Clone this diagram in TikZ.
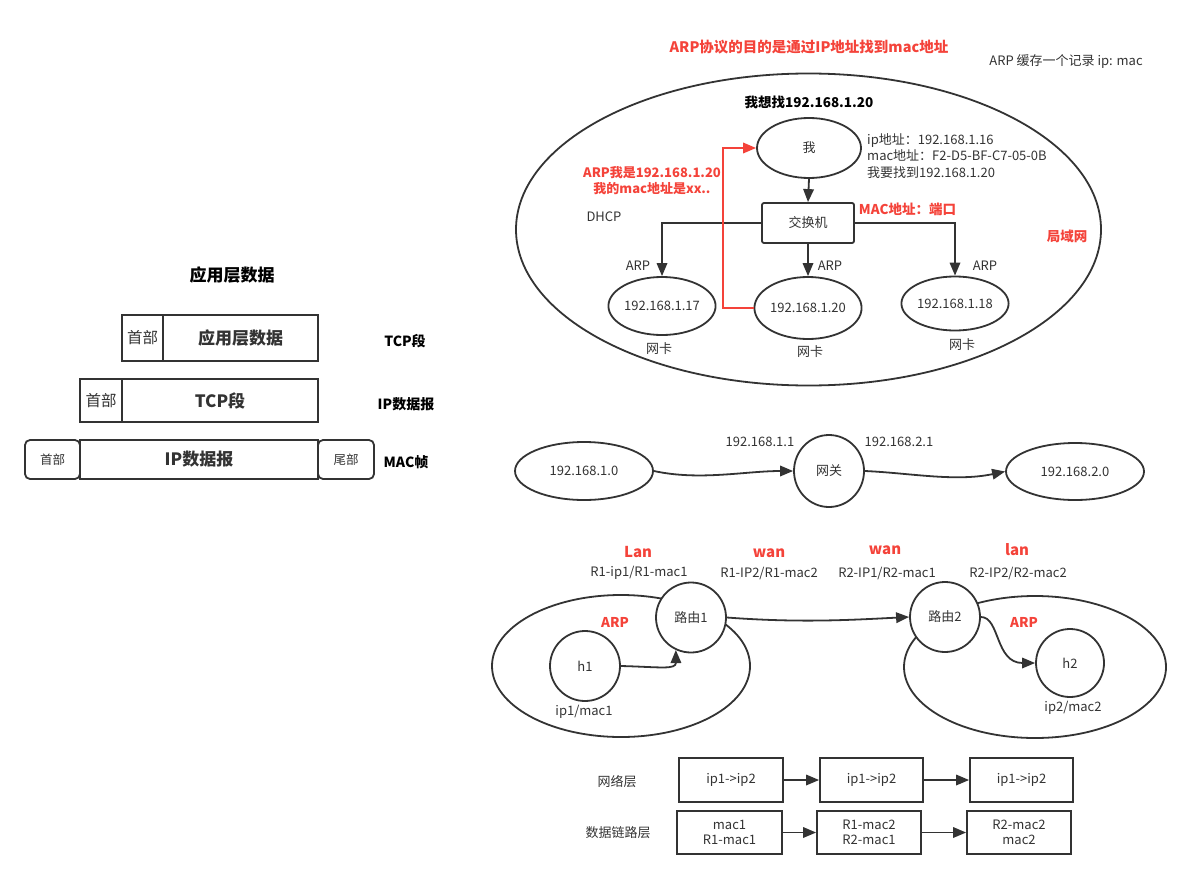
\documentclass[tikz,border=0pt]{standalone}
\usepackage{fontspec}
\setmainfont{Noto Sans CJK SC}
\usetikzlibrary{arrows.meta,shapes.geometric}
\definecolor{ln}{HTML}{333333}
\definecolor{rd}{HTML}{F4433A}
\newcommand\fsn{\fontsize{13}{16.5}\selectfont}
\newcommand\fsb{\fontsize{13.5}{15.5}\selectfont\bfseries}
\tikzset{
  every node/.style={font=\fsn, text=ln},
  lbl/.style={inner sep=0pt},
  rlbl/.style={inner sep=0pt, text=rd, font=\fsb},
  blbl/.style={inner sep=0pt, text=black, font=\fontsize{14}{16}\selectfont\bfseries},
  ell/.style={draw=ln, line width=1.8pt, ellipse, inner sep=0pt, fill=white},
  bigell/.style={draw=ln, line width=1.8pt, ellipse, inner sep=0pt},
  box/.style={draw=ln, line width=1.8pt, rectangle, inner sep=0pt, fill=white},
  conn/.style={draw=ln, line width=1.8pt, -{Triangle[length=13pt,width=10.5pt]}},
  rconn/.style={draw=rd, line width=1.8pt, -{Triangle[length=13pt,width=10.5pt]}},
}
\begin{document}
\begin{tikzpicture}[x=1pt,y=-1pt]
\useasboundingbox (0,0) rectangle (1193,880);

% ---------------- ARP / LAN ----------------
\node[rlbl, font=\fontsize{14.5}{16}\selectfont\bfseries] (title) at (809,47) {ARP协议的目的是通过IP地址找到mac地址};
\node[lbl] (cache) at (1066,62) {ARP 缓存一个记录 ip: mac};
\node[bigell, minimum width=585pt, minimum height=312pt] (lan) at (808.5,229.5) {};
\node[lbl, text=black, font=\fsb] (want) at (809,102) {我想找192.168.1.20};
\node[ell, minimum width=104pt, minimum height=60pt] (me) at (809,148) {我};
\node[lbl, align=left, anchor=west] (info) at (867,156) {ip地址：192.168.1.16\\mac地址：F2-D5-BF-C7-05-0B\\我要找到192.168.1.20};
\node[rlbl, align=center, font=\fontsize{13}{15.5}\selectfont\bfseries] (reply) at (652,180.5) {ARP我是192.168.1.20\\我的mac地址是xx..};
\node[lbl] (dhcp) at (604,217) {DHCP};
\node[box, minimum width=92pt, minimum height=40pt, rounded corners=2pt] (sw) at (808,223) {交换机};
\node[rlbl] (macport) at (907.5,209) {MAC地址：端口};
\node[rlbl] (lanlbl) at (1067,236) {局域网};
\node[ell, minimum width=100pt, minimum height=58pt] (n17) at (662,306) {192.168.1.17};
\node[ell, minimum width=101pt, minimum height=62pt] (n20) at (808,308) {192.168.1.20};
\node[ell, minimum width=102pt, minimum height=54pt] (n18) at (955,303.5) {192.168.1.18};
\node[lbl] (arp1) at (638,266) {ARP};
\node[lbl] (arp2) at (830,266) {ARP};
\node[lbl] (arp3) at (985,266) {ARP};
\node[lbl] (nic1) at (659,349) {网卡};
\node[lbl] (nic2) at (810,352) {网卡};
\node[lbl] (nic3) at (962,345) {网卡};
\coordinate (rc) at (723,220);
\draw[conn] (me.south) -- (sw.north);
\draw[conn] (sw.west) -| (n17.north);
\draw[conn] (sw.south) -- (n20.north);
\draw[conn] (sw.east) -| (n18.north);
\draw[rconn] (n20.west) -- (n20.west -| rc) -- (rc |- me.west) -- (me.west);

% ---------------- encapsulation ----------------
\node[lbl, text=black, font=\fontsize{17}{19}\selectfont\bfseries] (apptitle) at (232,275) {应用层数据};
\node[box, minimum width=41pt, minimum height=46pt, font=\fontsize{15.5}{17}\selectfont] (hd1) at (142.5,338) {首部};
\node[box, minimum width=155pt, minimum height=46pt, font=\fontsize{17}{19}\selectfont\bfseries] (dt1) at (240.5,338) {应用层数据};
\node[box, minimum width=42pt, minimum height=43pt, font=\fontsize{15.5}{17}\selectfont] (hd2) at (101,400.5) {首部};
\node[box, minimum width=196pt, minimum height=43pt, font=\fontsize{17}{19}\selectfont\bfseries] (dt2) at (220,400.5) {TCP段};
\node[box, minimum width=238pt, minimum height=39pt, font=\fontsize{17}{19}\selectfont\bfseries] (dt3) at (199,459.5) {IP数据报};
\node[box, minimum width=55pt, minimum height=39pt, rounded corners=5pt, font=\fontsize{12.5}{14}\selectfont] (hd3) at (52.5,459.5) {首部};
\node[box, minimum width=56pt, minimum height=39pt, rounded corners=5pt, font=\fontsize{12.5}{14}\selectfont] (tl3) at (346,459.5) {尾部};
\node[blbl] (seg) at (405,341) {TCP段};
\node[blbl] (dgram) at (406,404) {IP数据报};
\node[blbl] (frame) at (406,462) {MAC帧};

% ---------------- gateway ----------------
\node[ell, minimum width=138pt, minimum height=58pt] (net1) at (584,471) {192.168.1.0};
\node[ell, minimum width=70pt, minimum height=72pt] (gw) at (829,471) {网关};
\node[ell, minimum width=138pt, minimum height=57pt] (net2) at (1075,471.5) {192.168.2.0};
\node[lbl] (gwip1) at (760,442) {192.168.1.1};
\node[lbl] (gwip2) at (899,442) {192.168.2.1};
\draw[conn] (net1.east) .. controls (700,481) and (745,471) .. (gw.west);
\draw[conn] (gw.east) .. controls (910,473) and (955,482) .. (net2.west);

% ---------------- routers ----------------
\node[bigell, minimum width=258pt, minimum height=142pt] (lanA) at (621,666) {};
\node[bigell, minimum width=262pt, minimum height=142pt] (lanB) at (1035,667) {};
\node[ell, minimum size=70pt] (r1) at (691,617.5) {路由1};
\node[ell, minimum size=70pt] (r2) at (945,617) {路由2};
\node[ell, minimum size=70pt] (h1) at (585,666) {h1};
\node[ell, minimum size=68pt] (h2) at (1070,663) {h2};
\node[lbl] (ip1) at (584,712) {ip1/mac1};
\node[lbl] (ip2) at (1073,708) {ip2/mac2};
\node[rlbl] (arpA) at (615,622) {ARP};
\node[rlbl] (arpB) at (1024,622) {ARP};
\node[rlbl, font=\fontsize{15}{17}\selectfont\bfseries] (lanL) at (638,552) {Lan};
\node[rlbl, font=\fontsize{15}{17}\selectfont\bfseries] (wanL) at (769,553) {wan};
\node[rlbl, font=\fontsize{15}{17}\selectfont\bfseries] (wanR) at (885,550) {wan};
\node[rlbl, font=\fontsize{15}{17}\selectfont\bfseries] (lanR) at (1017,550) {lan};
\node[lbl] (if1) at (639,573) {R1-ip1/R1-mac1};
\node[lbl] (if2) at (769,573) {R1-IP2/R1-mac2};
\node[lbl] (if3) at (887,573) {R2-IP1/R2-mac1};
\node[lbl] (if4) at (1018,573) {R2-IP2/R2-mac2};
\draw[conn] (h1.east) .. controls (660,667) and (676,670) .. (r1.245);
\draw[conn] (r1.east) .. controls (800,623) and (850,620) .. (r2.west);
\draw[conn] (r2.east) .. controls (1000,617) and (995,663) .. (h2.west);

% ---------------- layers ----------------
\node[lbl] (netlayer) at (617,782) {网络层};
\node[lbl] (linklayer) at (618,833) {数据链路层};
\node[box, minimum width=104pt, minimum height=44pt] (a1) at (731,780) {ip1->ip2};
\node[box, minimum width=103pt, minimum height=44pt] (a2) at (871.5,780) {ip1->ip2};
\node[box, minimum width=103pt, minimum height=44pt] (a3) at (1021.5,780) {ip1->ip2};
\node[box, minimum width=105pt, minimum height=43pt, align=center, font=\fontsize{13}{15}\selectfont] (b1) at (729.5,832.5) {mac1\\R1-mac1};
\node[box, minimum width=104pt, minimum height=43pt, align=center, font=\fontsize{13}{15}\selectfont] (b2) at (869,832.5) {R1-mac2\\R2-mac1};
\node[box, minimum width=104pt, minimum height=43pt, align=center, font=\fontsize{13}{15}\selectfont] (b3) at (1019,832.5) {R2-mac2\\mac2};
\draw[conn] (a1) -- (a2);
\draw[conn] (a2) -- (a3);
\draw[conn] (b1) -- (b2);
\draw[conn] (b2) -- (b3);
\end{tikzpicture}
\end{document}
